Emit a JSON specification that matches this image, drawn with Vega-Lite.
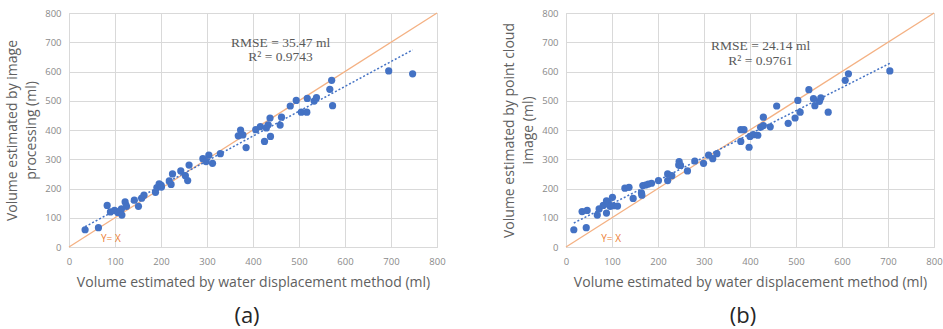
{
  "$schema": "https://vega.github.io/schema/vega-lite/v6.json",
  "background": "white",
  "padding": {"left": 5, "top": 7, "right": 2, "bottom": 0},
  "spacing": 56,
  "config": {
    "view": {"stroke": "#d9d9d9", "strokeWidth": 1},
    "axis": {
      "labelFont": "Open Sans", "labelFontSize": 9.5, "labelColor": "#8a8a8a",
      "titleFont": "Open Sans", "titleFontSize": 14, "titleColor": "#606060", "titleFontWeight": "normal",
      "gridColor": "#d9d9d9", "gridWidth": 1, "domainColor": "#d9d9d9",
      "ticks": false, "tickSize": 0, "labelFlush": false, "labelOverlap": false,
      "values": [0, 100, 200, 300, 400, 500, 600, 700, 800]
    },
    "axisX": {"labelPadding": 9, "titlePadding": 10},
    "axisY": {"labelPadding": 8, "titlePadding": 6, "titleLineHeight": 19},
    "title": {"font": "Open Sans", "fontSize": 22, "fontWeight": "normal", "color": "#262626", "orient": "bottom", "offset": 16}
  },
  "datasets": {
    "a": [
      {"x":35,"y":59},{"x":64,"y":66},{"x":83,"y":142},{"x":90,"y":120},{"x":99,"y":125},{"x":106,"y":118},{"x":110,"y":122},{"x":114,"y":130},{"x":115,"y":109},{"x":122,"y":154},{"x":125,"y":139},{"x":142,"y":160},{"x":151,"y":139},{"x":158,"y":167},{"x":163,"y":177},{"x":188,"y":187},{"x":191,"y":203},{"x":196,"y":216},{"x":200,"y":212},{"x":201,"y":205},{"x":218,"y":226},{"x":222,"y":214},{"x":225,"y":250},{"x":243,"y":260},{"x":253,"y":244},{"x":258,"y":227},{"x":261,"y":280},{"x":291,"y":302},{"x":298,"y":292},{"x":304,"y":314},{"x":312,"y":286},{"x":329,"y":319},{"x":368,"y":380},{"x":373,"y":400},{"x":378,"y":383},{"x":385,"y":340},{"x":406,"y":401},{"x":416,"y":412},{"x":425,"y":361},{"x":429,"y":407},{"x":433,"y":418},{"x":437,"y":441},{"x":438,"y":378},{"x":459,"y":417},{"x":462,"y":444},{"x":481,"y":482},{"x":494,"y":501},{"x":505,"y":461},{"x":517,"y":461},{"x":518,"y":508},{"x":533,"y":499},{"x":538,"y":511},{"x":567,"y":539},{"x":571,"y":570},{"x":573,"y":483},{"x":695,"y":602},{"x":747,"y":592}
    ],
    "b": [
      {"x":17,"y":59},{"x":35,"y":121},{"x":44,"y":66},{"x":46,"y":125},{"x":68,"y":109},{"x":72,"y":130},{"x":81,"y":142},{"x":88,"y":116},{"x":88,"y":158},{"x":92,"y":153},{"x":96,"y":139},{"x":101,"y":170},{"x":103,"y":141},{"x":112,"y":140},{"x":128,"y":201},{"x":137,"y":204},{"x":146,"y":166},{"x":164,"y":185},{"x":165,"y":177},{"x":167,"y":210},{"x":173,"y":212},{"x":179,"y":215},{"x":186,"y":218},{"x":201,"y":227},{"x":221,"y":227},{"x":221,"y":250},{"x":230,"y":244},{"x":246,"y":292},{"x":245,"y":280},{"x":249,"y":279},{"x":264,"y":260},{"x":280,"y":294},{"x":299,"y":286},{"x":310,"y":314},{"x":319,"y":302},{"x":328,"y":319},{"x":380,"y":401},{"x":387,"y":401},{"x":380,"y":361},{"x":398,"y":341},{"x":400,"y":378},{"x":407,"y":384},{"x":417,"y":382},{"x":423,"y":409},{"x":429,"y":415},{"x":429,"y":444},{"x":444,"y":411},{"x":458,"y":482},{"x":483,"y":423},{"x":498,"y":441},{"x":504,"y":501},{"x":509,"y":461},{"x":528,"y":538},{"x":538,"y":507},{"x":541,"y":483},{"x":551,"y":498},{"x":554,"y":510},{"x":570,"y":461},{"x":607,"y":570},{"x":614,"y":592},{"x":704,"y":602}
    ],
    "diag": [{"x":0,"y":0},{"x":800,"y":800}]
  },
  "hconcat": [
    {
      "width": 368, "height": 234,
      "title": {"text": "(a)", "dx": -6},
      "encoding": {
        "x": {"field": "x", "type": "quantitative", "scale": {"domain": [0, 800], "nice": false}, "axis": {"title": "Volume estimated by water displacement method (ml)"}},
        "y": {"field": "y", "type": "quantitative", "scale": {"domain": [0, 800], "nice": false}, "axis": {"title": ["Volume estimated by image", "processing (ml)"]}}
      },
      "layer": [
        {"data": {"name": "diag"}, "mark": {"type": "line", "color": "#F4B183", "strokeWidth": 1.3}},
        {"data": {"name": "a"}, "transform": [{"regression": "y", "on": "x"}], "mark": {"type": "line", "color": "#4472C4", "strokeWidth": 1.5, "strokeDash": [2, 2]}},
        {"data": {"name": "a"}, "mark": {"type": "circle", "color": "#4472C4", "opacity": 1, "size": 52}},
        {"data": {"values": [{"x": 460, "y": 699, "t": "RMSE = 35.47 ml"}, {"x": 460, "y": 650, "t": "R² = 0.9743"}]}, "mark": {"type": "text", "font": "Liberation Serif", "fontSize": 13.5, "color": "#595959"}, "encoding": {"text": {"field": "t"}}},
        {"data": {"values": [{"x": 91, "y": 29, "t": "Y= X"}]}, "mark": {"type": "text", "font": "Open Sans", "fontSize": 10, "color": "#ED7D31"}, "encoding": {"text": {"field": "t"}}}
      ]
    },
    {
      "width": 368, "height": 234,
      "title": {"text": "(b)", "dx": -7},
      "encoding": {
        "x": {"field": "x", "type": "quantitative", "scale": {"domain": [0, 800], "nice": false}, "axis": {"title": "Volume estimated by water displacement method (ml)"}},
        "y": {"field": "y", "type": "quantitative", "scale": {"domain": [0, 800], "nice": false}, "axis": {"title": ["Volume estimated by point cloud", "image (ml)"]}}
      },
      "layer": [
        {"data": {"name": "diag"}, "mark": {"type": "line", "color": "#F4B183", "strokeWidth": 1.3}},
        {"data": {"name": "b"}, "transform": [{"regression": "y", "on": "x"}], "mark": {"type": "line", "color": "#4472C4", "strokeWidth": 1.5, "strokeDash": [2, 2]}},
        {"data": {"name": "b"}, "mark": {"type": "circle", "color": "#4472C4", "opacity": 1, "size": 52}},
        {"data": {"values": [{"x": 423, "y": 688, "t": "RMSE = 24.14 ml"}, {"x": 423, "y": 637, "t": "R² = 0.9761"}]}, "mark": {"type": "text", "font": "Liberation Serif", "fontSize": 13.5, "color": "#595959"}, "encoding": {"text": {"field": "t"}}},
        {"data": {"values": [{"x": 98, "y": 29, "t": "Y= X"}]}, "mark": {"type": "text", "font": "Open Sans", "fontSize": 10, "color": "#ED7D31"}, "encoding": {"text": {"field": "t"}}}
      ]
    }
  ]
}
